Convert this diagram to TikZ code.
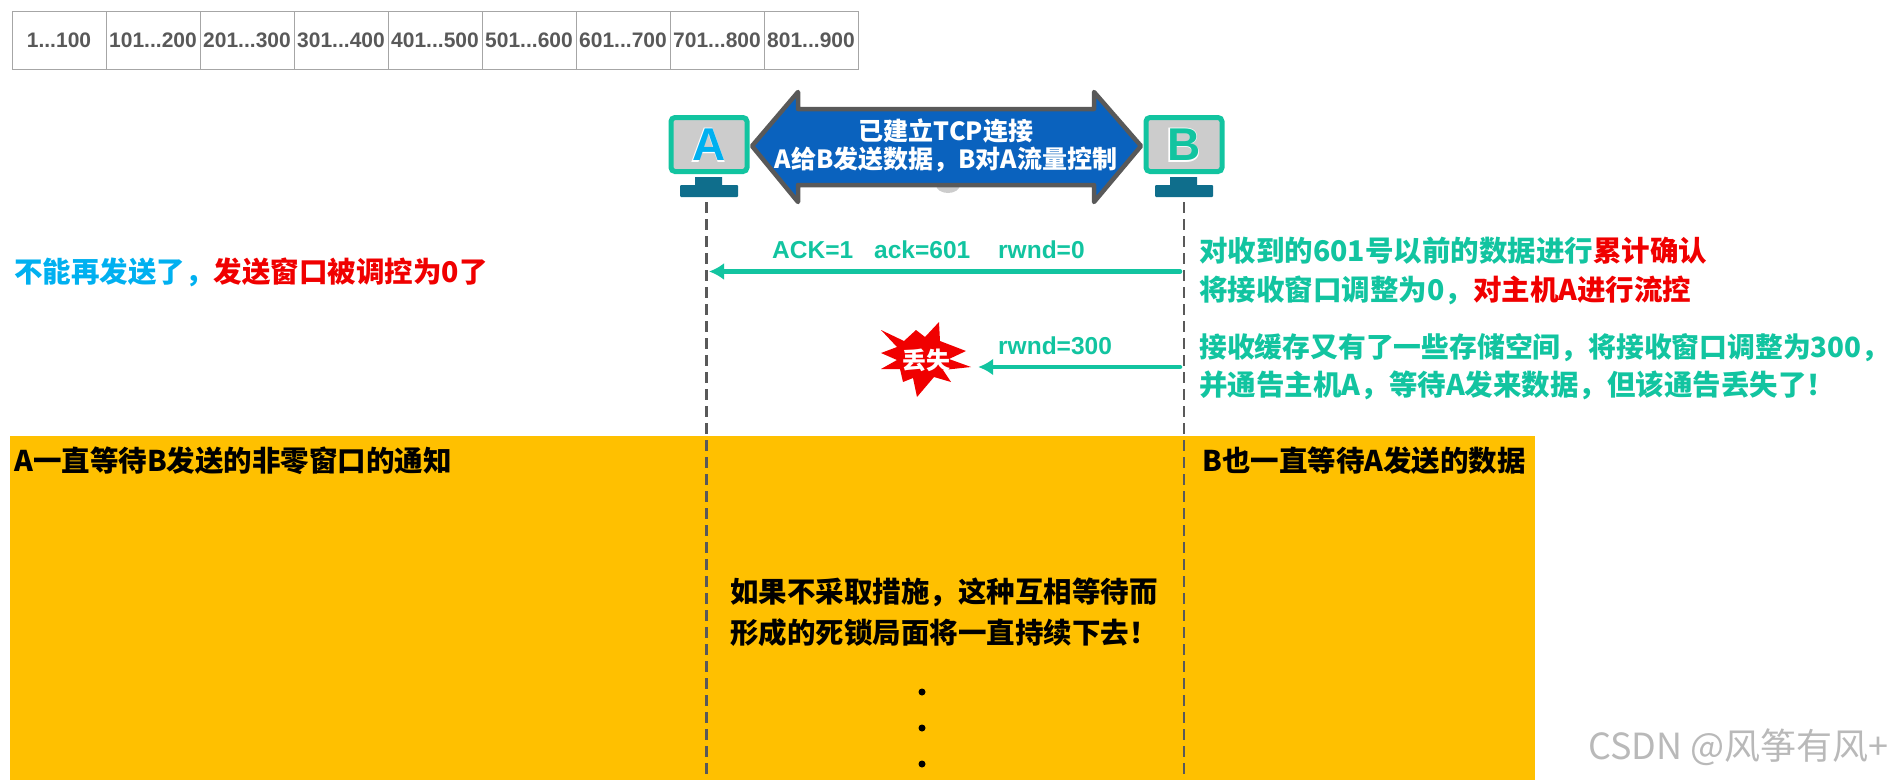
\documentclass[tikz,border=0pt]{standalone}
\usepackage{fontspec}
\setmainfont{Liberation Sans}
\newfontfamily\cjk{Noto Sans CJK SC}
\usetikzlibrary{arrows.meta,positioning,calc}
\definecolor{teal}{HTML}{12C4A0}
\definecolor{sky}{HTML}{00B0F0}
\definecolor{redtxt}{HTML}{F00000}
\definecolor{amber}{HTML}{FFC000}
\definecolor{stand}{HTML}{0F6E8C}
\definecolor{royal}{HTML}{0A62BE}
\definecolor{slate}{HTML}{595959}
\tikzset{
  cell/.style={draw=gray!70, line width=1pt, minimum width=94pt, minimum height=58pt, inner sep=0pt, text=slate, font=\fontsize{21}{21}\selectfont\bfseries},
  note/.style={anchor=west, inner sep=0pt, font=\fontsize{28.5}{34}\selectfont\cjk\bfseries},
  lbl/.style={anchor=west, inner sep=0pt, text=teal, font=\fontsize{24.5}{24.5}\selectfont\bfseries},
  screen/.style={draw=teal, fill=gray!40, line width=5pt, rounded corners=4pt, minimum width=76pt, minimum height=54pt, inner sep=0pt},
  life/.style={slate, line width=2.5pt, dash pattern=on 11pt off 6pt},
  msg/.style={teal, line width=4.5pt, line cap=round, -{Latex[length=15pt,width=17pt]}},
}
\begin{document}
\begin{tikzpicture}[x=1pt,y=-1pt]
\useasboundingbox (0,0) rectangle (1893,780);
\foreach \lo/\hi [count=\i] in {1/100,101/200,201/300,301/400,401/500,501/600,601/700,701/800,801/900}
  \node[cell] (cell\i) at ({12+94*(\i-0.5)},40) {\lo{.}{.}{.}\hi};
\fill[amber] (10,436) rectangle (1535,780);
\node[screen] (hostA) at (709,144.5) {};
\node[text=white, font=\fontsize{50}{50}\selectfont\bfseries] (markA) at (709,145) {A};
\node[text=sky, font=\fontsize{46}{46}\selectfont\bfseries] (letterA) at (709,145) {A};
\node[screen] (hostB) at (1184,144.5) {};
\node[text=white, font=\fontsize{50}{50}\selectfont\bfseries] (markB) at (1184,145) {B};
\node[text=teal, font=\fontsize{46}{46}\selectfont\bfseries] (letterB) at (1184,145) {B};
\fill[stand] (695,177) rectangle (722,186) (680,185) [rounded corners=1pt] rectangle (738,197);
\fill[stand] (1170,177) rectangle (1197,186) (1155,185) [rounded corners=1pt] rectangle (1213,197);
\fill[gray!40] (936,185) arc[start angle=180, end angle=360, x radius=12pt, y radius=8pt] -- cycle;
\draw[slate, fill=royal, line width=4.5pt, line join=round] (752,146) -- (798,92) -- (798,109) -- (1094,109) -- (1094,92) -- (1141,146) -- (1094,202) -- (1094,185) -- (798,185) -- (798,202) -- cycle;
\node[text=white, align=center, font=\fontsize{25}{28}\selectfont\cjk\bfseries] (link) at (946,146) {已建立TCP连接\\A给B发送数据，B对A流量控制};
\coordinate (topA) at (706.5,202);
\coordinate (botA) at (706.5,780);
\coordinate (topB) at (1184,202);
\coordinate (botB) at (1184,780);
\draw[life] (topA) -- (botA);
\draw[life] (topB) -- (botB);
\coordinate (startack) at (1180,271.5);
\coordinate (endack) at (709,271.5);
\coordinate (startwin) at (1180,367);
\draw[msg] (startack) -- (endack);
\node[lbl] (ackflag) at (772,250) {ACK=1};
\node[lbl] (acknum) at (874,250) {ack=601};
\node[lbl] (rwndzero) at (998,250) {rwnd=0};
\node[lbl] (rwndthree) at (998,346) {rwnd=300};
\fill[redtxt] (881,330) -- (904,341) -- (916,330) -- (925,337) -- (939,322) -- (940,341) -- (966,351) -- (949,359) -- (971,367) -- (943,370) -- (951,382) -- (934,377) -- (917,397) -- (913,378) -- (903,382) -- (900,369) -- (881,369) -- (897,360) -- (881,353) -- (897,347) -- cycle;
\node[inner sep=0pt, minimum width=90pt, text=white, font=\fontsize{24}{24}\selectfont\cjk\bfseries] (lost) at (926,360) {丢失};
\draw[msg] (startwin) -- ($(startwin -| lost.east)+(7,0)$);
\node[note] (stopnote) at (14,272) {\textcolor{sky}{不能再发送了，}\textcolor{redtxt}{发送窗口被调控为0了}};
\node[note, text=teal] (acknote) at (1199,251) {对收到的601号以前的数据进行\textcolor{redtxt}{累计确认}};
\node[note, text=teal] (flownote) at (1199,290) {将接收窗口调整为0，\textcolor{redtxt}{对主机A进行流控}};
\node[note, text=teal, font=\fontsize{27.8}{34}\selectfont\cjk\bfseries] (spacenote) at (1199,348) {接收缓存又有了一些存储空间，将接收窗口调整为300，};
\node[note, text=teal] (tellnote) at (1199,385) {并通告主机A，等待A发来数据，但该通告丢失了！};
\node[note] (waitA) at (14,461) {A一直等待B发送的非零窗口的通知};
\node[note] (waitB) at (1202,461) {B也一直等待A发送的数据};
\node[note, align=left, font=\fontsize{28.5}{41}\selectfont\cjk\bfseries] (deadlock) at (730,612) {如果不采取措施，这种互相等待而\\形成的死锁局面将一直持续下去！};
\foreach \y [count=\i] in {692,728,764}
  \node[circle, fill=black, inner sep=0pt, minimum size=7pt] (dot\i) at (922,\y) {};
\node[anchor=east, inner sep=0pt, text=gray!55, font=\fontsize{36}{36}\selectfont\cjk] (mark) at (1889,747) {CSDN @风筝有风+};
\end{tikzpicture}
\end{document}
